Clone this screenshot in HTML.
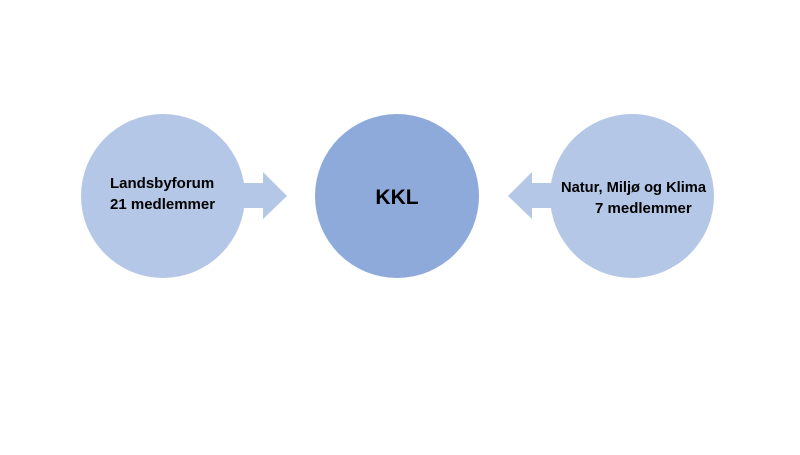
<!DOCTYPE html>
<html><head><style>
body{margin:0;width:800px;height:450px;background:#fff;overflow:hidden}
svg text{font-family:"Liberation Sans",sans-serif;font-weight:bold;fill:#000}
</style></head><body>
<svg width="800" height="450" viewBox="0 0 800 450">
<circle cx="163" cy="196" r="82" fill="#b4c7e7"/>
<circle cx="632" cy="196" r="82" fill="#b4c7e7"/>
<circle cx="397" cy="196" r="82" fill="#8eaadb"/>
<polygon points="240,183 263,183 263,172 287,196 263,219 263,208 240,208" fill="#b4c7e7"/>
<polygon points="555,183 532,183 532,172 508,196 532,219 532,208 555,208" fill="#b4c7e7"/>
<text x="397" y="204" font-size="21" text-anchor="middle">KKL</text>
<text x="110" y="188" font-size="15">Landsbyforum</text>
<text x="110" y="209" font-size="15">21 medlemmer</text>
<text x="561" y="192" font-size="14.7" textLength="145">Natur, Miljø og Klima</text>
<text x="595" y="213" font-size="15">7 medlemmer</text>
</svg>
</body></html>
